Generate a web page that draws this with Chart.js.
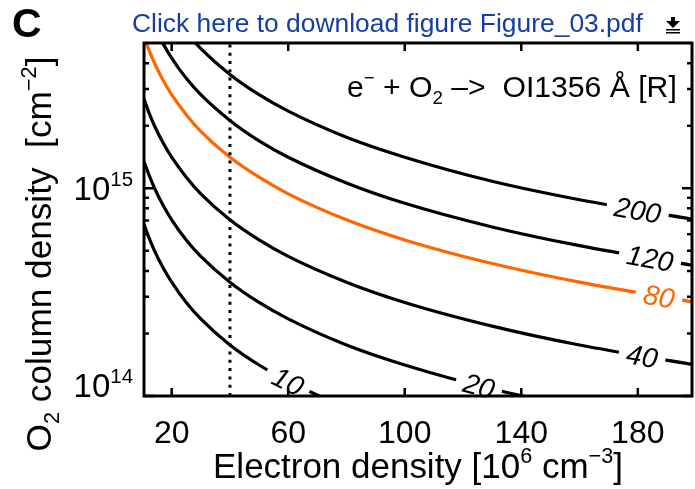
<!DOCTYPE html>
<html><head><meta charset="utf-8">
<script src="https://cdn.jsdelivr.net/npm/chart.js@4/dist/chart.umd.min.js"></script>
<style>html,body{margin:0;padding:0;background:#fff;}#wrap{width:695px;height:489px;}</style>
</head><body><div id="wrap"><canvas id="c" width="695" height="489"></canvas></div>
<script>
// ---- data ----
const electronDensity = [10.5, 12, 14, 17, 20, 25, 30, 40, 50, 60, 80, 100, 130, 160, 198.6]; // 10^6 cm^-3
const columnUnit = 1e14; // O2 column density unit, cm^-2
const level10  = [6.71, 5.88, 5.04, 4.15, 3.53, 2.82, 2.35, 1.76, 1.41, 1.18, 0.88, 0.71, 0.54, 0.44, 0.355];
const level20  = [13.4, 11.8, 10.1, 8.30, 7.05, 5.64, 4.70, 3.53, 2.82, 2.35, 1.76, 1.41, 1.08, 0.88, 0.71];
const level40  = [26.9, 23.5, 20.1, 16.6, 14.1, 11.3, 9.40, 7.05, 5.64, 4.70, 3.53, 2.82, 2.17, 1.76, 1.42];
const level80  = [53.7, 47.0, 40.3, 33.2, 28.2, 22.6, 18.8, 14.1, 11.3, 9.40, 7.05, 5.64, 4.34, 3.53, 2.84];
const level120 = [80.6, 70.5, 60.4, 49.8, 42.3, 33.8, 28.2, 21.2, 16.9, 14.1, 10.6, 8.46, 6.51, 5.29, 4.26];
const level200 = [134, 117.5, 100.7, 82.9, 70.5, 56.4, 47.0, 35.3, 28.2, 23.5, 17.6, 14.1, 10.8, 8.80, 7.10];
const contourNames = ['10', '20', '40', '80', '120', '200'];
const contourSeries = [level10, level20, level40, level80, level120, level200];
const referenceDensity = 40; // dotted vertical line
const xTickValues = [20, 60, 100, 140, 180];
const xTickLabels = ['20', '60', '100', '140', '180'];
const yMajorTicks = [1e14, 1e15];
const yTickExponents = ['14', '15'];
const yMinorTicks = [2e14,3e14,4e14,5e14,6e14,7e14,8e14,9e14,2e15,3e15,4e15];

// ---- styling / layout ----
const ORANGE = 'rgb(255,102,0)';
const FAMILY = '"Liberation Sans", Arial, Helvetica, sans-serif';
const labelAtX = [60, 125.5, 181.5, 187.3, 184.2, 180]; // where each curve label sits (x data)

function mkFont(size, style){ return (style ? style + ' ' : '') + size + 'px ' + FAMILY; }
function measureRich(ctx, segs, size, style){
  let w = 0;
  for (const s of segs){ const fs = (s.sup||s.sub) ? size*0.62 : size; ctx.font = mkFont(fs, style); w += ctx.measureText(s.t).width; }
  return w;
}
function drawRich(ctx, segs, x, y, size, opts){
  opts = opts || {};
  const style = opts.style || '';
  const w = measureRich(ctx, segs, size, style);
  let cx = opts.align === 'center' ? x - w/2 : (opts.align === 'right' ? x - w : x);
  ctx.fillStyle = opts.color || '#000';
  ctx.textBaseline = 'alphabetic';
  ctx.textAlign = 'left';
  for (const s of segs){
    const fs = (s.sup||s.sub) ? size*0.62 : size;
    ctx.font = mkFont(fs, style);
    const dy = s.sup ? -size*0.42 : (s.sub ? size*0.22 : 0);
    ctx.fillText(s.t, cx, y + dy);
    cx += ctx.measureText(s.t).width;
  }
  return w;
}
function fitSize(ctx, segs, target, style){ return 30 * target / measureRich(ctx, segs, 30, style); }

function valAt(series, xv){
  const xs = electronDensity;
  let j = 0;
  while (j < xs.length - 2 && xs[j+1] < xv) j++;
  const t = (xv - xs[j]) / (xs[j+1] - xs[j]);
  const l = Math.log10(series[j]) * (1-t) + Math.log10(series[j+1]) * t;
  return Math.pow(10, l) * columnUnit;
}

const overlay = {
  id: 'overlay',
  afterDatasetsDraw(chart){
    const {ctx, chartArea: a, scales: {x, y}} = chart;
    ctx.save();
    // contour labels
    contourSeries.forEach((ser, i) => {
      const lx = labelAtX[i];
      const px = x.getPixelForValue(lx), py = y.getPixelForValue(valAt(ser, lx));
      const p0x = x.getPixelForValue(lx-6), p0y = y.getPixelForValue(valAt(ser, lx-6));
      const p1x = x.getPixelForValue(lx+6), p1y = y.getPixelForValue(valAt(ser, lx+6));
      const ang = Math.atan2(p1y - p0y, p1x - p0x);
      const size = 28;
      ctx.save();
      ctx.translate(px, py); ctx.rotate(ang);
      ctx.font = mkFont(size, 'italic');
      const w = ctx.measureText(contourNames[i]).width;
      ctx.fillStyle = '#fff';
      ctx.fillRect(-w/2 - 8, -7, w + 16, 14);
      ctx.fillStyle = i === 3 ? ORANGE : '#000';
      ctx.textAlign = 'center'; ctx.textBaseline = 'alphabetic';
      ctx.fillText(contourNames[i], 0, size*0.36);
      ctx.restore();
    });
    // axes box
    ctx.strokeStyle = '#000'; ctx.lineWidth = 3;
    ctx.strokeRect(a.left, a.top, a.right - a.left, a.bottom - a.top);
    ctx.lineWidth = 2.5; ctx.beginPath();
    xTickValues.forEach(v => { const p = x.getPixelForValue(v);
      ctx.moveTo(p, a.bottom); ctx.lineTo(p, a.bottom - 8);
      ctx.moveTo(p, a.top); ctx.lineTo(p, a.top + 8); });
    yMajorTicks.forEach(v => { const p = y.getPixelForValue(v);
      ctx.moveTo(a.left, p); ctx.lineTo(a.left + 10, p);
      ctx.moveTo(a.right, p); ctx.lineTo(a.right - 10, p); });
    yMinorTicks.forEach(v => { const p = y.getPixelForValue(v);
      ctx.moveTo(a.left, p); ctx.lineTo(a.left + 5, p);
      ctx.moveTo(a.right, p); ctx.lineTo(a.right - 5, p); });
    ctx.stroke();
    ctx.restore();
  },
  afterDraw(chart){
    const {ctx, chartArea: a, scales: {x, y}} = chart;
    ctx.save();
    // x tick labels
    ctx.font = mkFont(32); ctx.fillStyle = '#000'; ctx.textAlign = 'center'; ctx.textBaseline = 'alphabetic';
    xTickValues.forEach((v, i) => ctx.fillText(xTickLabels[i], x.getPixelForValue(v), 443));
    // y tick labels
    yMajorTicks.forEach((v, i) => {
      const p = y.getPixelForValue(v);
      const base = i === 0 ? p + 1 : p + 12;
      drawRich(ctx, [{t:'10'}, {t: yTickExponents[i], sup: 1}], 133, base, 33, {align: 'right'});
    });
    // x title
    const xt = [{t:'Electron density [10'}, {t:'6', sup:1}, {t:' cm'}, {t:'\u22123', sup:1}, {t:']'}];
    drawRich(ctx, xt, 418, 478, fitSize(ctx, xt, 410), {align: 'center'});
    // y title
    const yt = [{t:'O'}, {t:'2', sub:1}, {t:' column density  [cm'}, {t:'\u22122', sup:1}, {t:']'}];
    ctx.save(); ctx.translate(51, 254); ctx.rotate(-Math.PI/2);
    drawRich(ctx, yt, 0, 0, fitSize(ctx, yt, 395), {align: 'center'});
    ctx.restore();
    // annotation
    const an = [{t:'e'}, {t:'\u2212', sup:1}, {t:' + O'}, {t:'2', sub:1}, {t:' \u2013>  OI1356 \u00C5 [R]'}];
    drawRich(ctx, an, 347, 97, fitSize(ctx, an, 330), {align: 'left'});
    // header
    drawRich(ctx, [{t:'C'}], 12, 37, 41, {style: 'bold'});
    const hd = [{t:'Click here to download figure Figure_03.pdf'}];
    drawRich(ctx, hd, 132, 32, fitSize(ctx, hd, 511), {color: 'rgb(22,62,160)'});
    // download icon
    ctx.fillStyle = '#000';
    ctx.fillRect(671, 17, 4, 5);
    ctx.beginPath(); ctx.moveTo(666, 21); ctx.lineTo(680, 21); ctx.lineTo(673, 28); ctx.closePath(); ctx.fill();
    ctx.fillRect(666, 29, 14, 1.5);
    ctx.fillRect(666, 32, 14, 1.5);
    ctx.restore();
  }
};

const datasets = contourSeries.map((ser, i) => ({
  label: contourNames[i],
  data: electronDensity.map((xv, j) => ({x: xv, y: ser[j] * columnUnit})),
  borderColor: i === 3 ? ORANGE : '#000',
  borderWidth: 3.2,
  pointRadius: 0,
  fill: false,
  cubicInterpolationMode: 'monotone'
}));
datasets.unshift({
  label: 'ne = 40',
  data: [{x: referenceDensity, y: 1e14}, {x: referenceDensity, y: 5e15}],
  borderColor: '#000', borderWidth: 3, borderDash: [3, 5.3], pointRadius: 0, fill: false
});

new Chart(document.getElementById('c'), {
  type: 'line',
  data: {datasets},
  options: {
    responsive: false, animation: false, devicePixelRatio: 1,
    layout: {padding: {left: 144, right: 3, top: 43, bottom: 93}},
    scales: {
      x: {type: 'linear', min: 10.5, max: 198.6, display: false},
      y: {type: 'logarithmic', min: 1e14, max: 5e15, display: false}
    },
    plugins: {legend: {display: false}, tooltip: {enabled: false}},
    elements: {line: {tension: 0}}
  },
  plugins: [overlay]
});
</script></body></html>
